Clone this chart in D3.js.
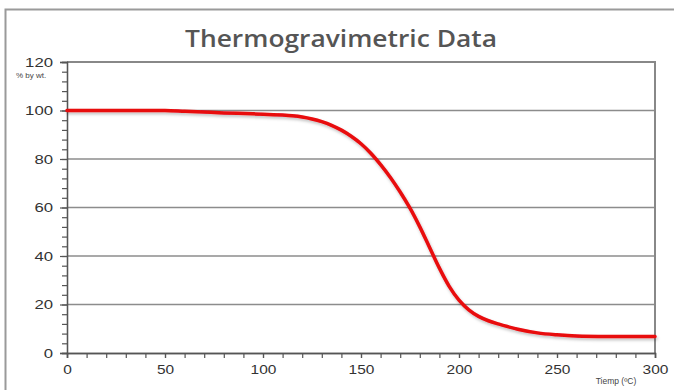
<!DOCTYPE html>
<html>
<head>
<meta charset="utf-8">
<script src="https://cdn.jsdelivr.net/npm/d3@7"></script>
<style>
  body { margin: 0; background: #fff; }
  svg { display: block; }
</style>
</head>
<body>
<svg id="chart"></svg>
<script>
// Temperature (ºC) and remaining weight (%)
const temps = [0, 20, 40, 50, 60, 80, 100, 110, 115, 120, 125, 130, 135, 140, 145, 150, 155, 160, 165, 170, 175,
               180, 185, 190, 195, 200, 205, 210, 215, 220, 230, 240, 250, 260, 280, 300];
const weights = [100, 100, 100, 100, 99.7, 99, 98.5, 98.1, 97.8, 97.3, 96.5, 95.4, 93.9, 91.9, 89.4, 86.3, 82.4, 77.7, 72.4, 66.4, 59.7,
                 52, 43.5, 35, 27.5, 21.8, 17.8, 15.1, 13.3, 12, 9.8, 8.3, 7.5, 7, 6.8, 6.8];
const xTicks = [0, 50, 100, 150, 200, 250, 300];
const yTicks = [0, 20, 40, 60, 80, 100, 120];

const data = temps.map((t, i) => ({t: t, w: weights[i]}));

let width = 674, height = 390;
let margin = {top: 62, right: 19, bottom: 37, left: 67};

let svg = d3.select('#chart')
    .attr('width', width)
    .attr('height', height);

// outer frame
svg.append('path')
    .attr('d', `M5.5,${height} L5.5,9.5 L${width + 2},9.5`)
    .attr('fill', 'none')
    .attr('stroke', '#9a9a9a')
    .attr('stroke-width', 2);

// title
svg.append('text')
    .attr('x', 341)
    .attr('y', 47)
    .attr('text-anchor', 'middle')
    .attr('font-family', 'Open Sans, sans-serif')
    .attr('font-weight', 600)
    .attr('font-size', 24)
    .attr('fill', '#555')
    .attr('textLength', 312)
    .attr('lengthAdjust', 'spacingAndGlyphs')
    .text('Thermogravimetric Data');

let xScale = d3.scaleLinear()
    .domain([0, 300])
    .range([margin.left, width - margin.right]);

let yScale = d3.scaleLinear()
    .domain([0, 120])
    .range([height - margin.bottom, margin.top]);

// gridlines
svg.append('g')
    .selectAll('line')
    .data(yTicks.filter(d => d > 0 && d < 120))
    .enter()
    .append('line')
    .attr('x1', xScale(0))
    .attr('x2', xScale(300))
    .attr('y1', d => yScale(d))
    .attr('y2', d => yScale(d))
    .attr('stroke', '#8c8c8c')
    .attr('stroke-width', 1.5);

// top and right frame of plot
svg.append('path')
    .attr('d', `M${xScale(0)},${yScale(120)} L${xScale(300)},${yScale(120)} L${xScale(300)},${yScale(0)}`)
    .attr('fill', 'none')
    .attr('stroke', '#888')
    .attr('stroke-width', 2);

// minor ticks
let yAxisMinor = svg.append('g')
    .attr('transform', `translate(${margin.left}, 0)`)
    .call(d3.axisLeft(yScale).tickValues(d3.range(0, 121, 4)).tickSize(5).tickFormat(''));

let xAxisMinor = svg.append('g')
    .attr('transform', `translate(0, ${height - margin.bottom})`)
    .call(d3.axisBottom(xScale).tickValues(d3.range(0, 301, 10)).tickSize(5).tickFormat(''));

// major axes
let yAxis = svg.append('g')
    .attr('transform', `translate(${margin.left}, 0)`)
    .call(d3.axisLeft(yScale).tickValues(yTicks).tickSize(7).tickPadding(7));

let xAxis = svg.append('g')
    .attr('transform', `translate(0, ${height - margin.bottom})`)
    .call(d3.axisBottom(xScale).tickValues(xTicks).tickSize(5).tickPadding(6));

svg.selectAll('.domain').attr('stroke', '#555').attr('stroke-width', 1.3);
svg.selectAll('.tick line').attr('stroke', '#555').attr('stroke-width', 1.2);
svg.selectAll('.tick text')
    .attr('font-family', 'Liberation Sans, Arial, sans-serif')
    .attr('font-size', 13.5)
    .attr('fill', '#333')
    .attr('lengthAdjust', 'spacingAndGlyphs');
yAxis.selectAll('.tick text').attr('textLength', d => String(d).length * 9.3);
xAxis.selectAll('.tick text').attr('textLength', d => String(d).length * 8.6);

// axis captions
svg.append('text')
    .attr('x', 31)
    .attr('y', 78)
    .attr('text-anchor', 'middle')
    .attr('font-family', 'Liberation Sans, Arial, sans-serif')
    .attr('font-size', 8)
    .attr('fill', '#444')
    .text('% by wt.');

svg.append('text')
    .attr('x', 616)
    .attr('y', 384)
    .attr('text-anchor', 'middle')
    .attr('font-family', 'Liberation Sans, Arial, sans-serif')
    .attr('font-size', 8.5)
    .attr('fill', '#444')
    .text('Tiemp (ºC)');

// soft shadow for the curve
let defs = svg.append('defs');
let filter = defs.append('filter')
    .attr('id', 'shadow')
    .attr('x', '-10%').attr('y', '-10%')
    .attr('width', '120%').attr('height', '120%');
filter.append('feDropShadow')
    .attr('dx', 1).attr('dy', 2)
    .attr('stdDeviation', 1.5)
    .attr('flood-color', '#000')
    .attr('flood-opacity', 0.25);

let line = d3.line()
    .x(d => xScale(d.t))
    .y(d => yScale(d.w))
    .curve(d3.curveCatmullRom.alpha(0.5));

svg.append('path')
    .datum(data)
    .attr('d', line)
    .attr('fill', 'none')
    .attr('stroke', '#e8080c')
    .attr('stroke-width', 3.5)
    .attr('stroke-linecap', 'round')
    .attr('filter', 'url(#shadow)');
</script>
</body>
</html>
